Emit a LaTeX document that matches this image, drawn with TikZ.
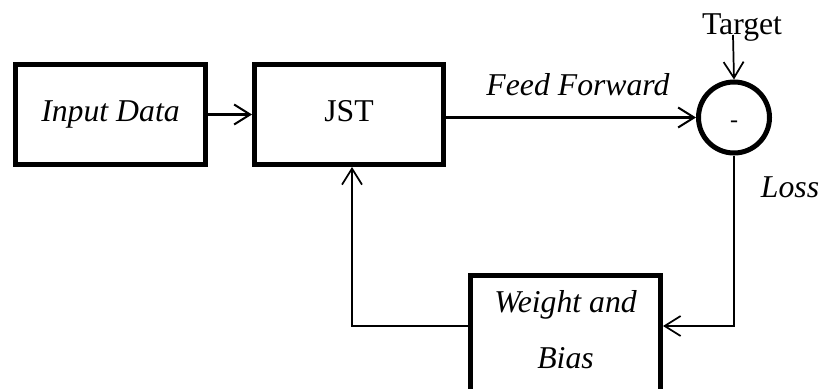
\documentclass[tikz,border=0pt]{standalone}
\usepackage{fontspec}
\setmainfont{Liberation Serif}
\usetikzlibrary{arrows.meta}
\tikzset{
  blk/.style={draw=black, line width=3.75pt, rectangle, inner sep=0pt, font=\fontsize{23.8}{28}\selectfont},
  sumnode/.style={draw=black, line width=3.75pt, circle, inner sep=0pt, minimum size=53.25pt, font=\fontsize{18}{22}\selectfont},
  lbl/.style={inner sep=0pt, anchor=base, font=\fontsize{23.8}{28}\selectfont},
  arr/.style={line width=1.7pt, -{Straight Barb[length=12pt,width=15pt,line width=1.5pt]}},
  thin arr/.style={line width=1.3pt, -{Straight Barb[length=12pt,width=15pt,line width=1.3pt]}},
  plain/.style={line width=1.3pt}
}
\begin{document}
\begin{tikzpicture}[x=0.75pt,y=-0.75pt]
\useasboundingbox (0,0) rectangle (821,389);
\clip (0,0) rectangle (821,389);
\node[blk, minimum width=142.5pt, minimum height=75pt] (inp) at (110.5,114.5) {\raisebox{3.5pt}{\itshape Input Data}};
\node[blk, minimum width=141.75pt, minimum height=75pt] (jst) at (349,114.5) {\raisebox{6pt}{JST}};
\node[sumnode] (sum) at (734,117.5) {\raisebox{-15pt}{-}};
\node[blk, minimum width=142.5pt, minimum height=150pt, anchor=north] (wb) at (565.5,272.5) {};
\node[lbl] (wbt1) at (565.5,312) {\itshape Weight and};
\node[lbl] (wbt2) at (565.5,368) {\itshape Bias};
\node[lbl] (tgt) at (742,34) {Target};
\node[lbl] (ff) at (578,95) {\itshape Feed Forward};
\node[lbl] (loss) at (790,197) {\itshape Loss};
\coordinate (tgtstart) at (733,35);
\coordinate (lossy) at (734,326);
\coordinate (fby) at (352,326);
\draw[arr] (inp.east) -- (jst.west);
\draw[arr] (jst.east |- sum.west) -- (sum.west);
\draw[thin arr] (tgtstart) -- (sum.north);
\draw[thin arr] (sum.south) |- (wb.east |- lossy);
\draw[thin arr] (wb.west |- fby) -| (jst.south -| fby);
\end{tikzpicture}
\end{document}
